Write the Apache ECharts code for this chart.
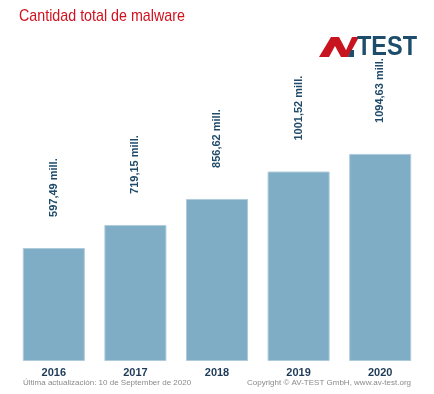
<!DOCTYPE html>
<html><head><meta charset="utf-8">
<script src="https://cdn.jsdelivr.net/npm/echarts@6/dist/echarts.min.js"></script>
<style>html,body{margin:0;padding:0;background:#fff}#c{width:434px;height:394px}</style>
</head><body><div id="c"></div>
<script>
const years = ['2016','2017','2018','2019','2020'];
const malware = [597.49, 719.15, 856.62, 1001.52, 1094.63];
const valueLabels = ['597,49 mill.','719,15 mill.','856,62 mill.','1001,52 mill.','1094,63 mill.'];
const titleText = 'Cantidad total de malware';
const footerLeft = 'Última actualización: 10 de September de 2020';
const footerRight = 'Copyright © AV-TEST GmbH, www.av-test.org';

const sans = '"Liberation Sans",Arial,sans-serif';
const chart = echarts.init(document.getElementById('c'), null, {renderer:'canvas'});
chart.setOption({
  backgroundColor:'#fff',
  animation:false,
  grid:{left:13,right:13,top:134,bottom:33,containLabel:false},
  xAxis:{type:'category',data:years,
    axisLine:{show:false},axisTick:{show:false},
    axisLabel:{color:'#1e3a56',fontWeight:'bold',fontSize:11,fontFamily:sans,margin:6}},
  yAxis:{type:'value',min:0,max:1200,show:false,splitLine:{show:false}},
  series:[{type:'bar',data:malware,barWidth:'76%',
    itemStyle:{color:'#7fadc6',borderColor:'#aecbdb',borderWidth:1},
    label:{show:true,position:'top',rotate:90,distance:31,align:'left',verticalAlign:'middle',
      color:'#1f4a69',fontWeight:'bold',fontSize:11,fontFamily:sans,
      formatter:p=>valueLabels[p.dataIndex]}}],
  graphic:[
    {type:'text',x:19,y:16,scaleX:0.84,style:{text:titleText,fill:'#d2101e',font:'17px '+sans,verticalAlign:'middle'}},
    {type:'polygon',shape:{points:[[319,57],[331,37],[339,37],[347,52],[344,57],[341,57],[335,46],[329,57]]},style:{fill:'#c8141e'}},
    {type:'polygon',shape:{points:[[343,57],[352,37],[359,37],[348,57]]},style:{fill:'#c8141e'}},
    {type:'polygon',shape:{points:[[348,57],[354,57],[354,50],[351,50]]},style:{fill:'#1d4d6b'}},
    {type:'text',x:357,y:47,scaleX:0.84,style:{text:'TEST',fill:'#1d4d6b',font:'bold 28px '+sans,verticalAlign:'middle'}},
    {type:'text',left:23,top:379,style:{text:footerLeft,fill:'#8a8a8a',font:'8px '+sans}},
    {type:'text',right:23,top:379,style:{text:footerRight,fill:'#8a8a8a',font:'8px '+sans}}
  ]
});
</script></body></html>
